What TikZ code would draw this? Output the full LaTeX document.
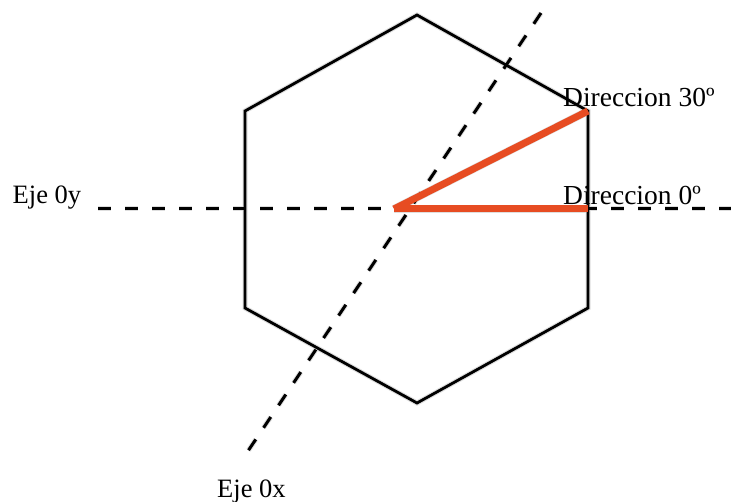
\documentclass[tikz,border=0pt]{standalone}
\usepackage{fontspec}
\setmainfont{Liberation Serif}
\begin{document}
\begin{tikzpicture}[x=1pt,y=-1pt,
  hexline/.style={line width=2.8pt, line join=miter},
  axisline/.style={line width=3pt, dash pattern=on 13pt off 14pt},
  redline/.style={line width=7pt, draw={rgb,255:red,231;green,76;blue,34}},
  shadowline/.style={draw=black!13, line width=5pt},
  dirlabel/.style={font=\fontsize{27.5}{30}\selectfont, inner sep=0pt, anchor=base west},
  axlabel/.style={font=\fontsize{26.5}{28}\selectfont, inner sep=0pt, anchor=base west}]
\useasboundingbox (0,0) rectangle (731,502);
% hexagon corners
\coordinate (T)  at (417,15);
\coordinate (UR) at (588,111);
\coordinate (LR) at (588,308);
\coordinate (B)  at (417,403);
\coordinate (LL) at (245,308);
\coordinate (UL) at (245,111);
% axes ends
\coordinate (Y1) at (98,209);
\coordinate (Y2) at (731,209);
\coordinate (X1) at (541,13);
\coordinate (X2) at (246,454);
\coordinate (O)  at (394,209);
\coordinate (D0) at (588,209);
% shadows
\begin{scope}[shift={(2,9)}]
  \draw[shadowline] (T) -- (UR) -- (LR) -- (B) -- (LL) -- (UL) -- cycle;
  \draw[shadowline, dash pattern=on 13pt off 14pt] (Y1) -- (Y2);
  \draw[shadowline, dash pattern=on 13pt off 14pt] (X1) -- (X2);
  \draw[shadowline, line width=8pt] (O) -- (UR);
  \draw[shadowline, line width=8pt] (O) -- (D0);
\end{scope}
% hexagon
\draw[hexline] (T) -- (UR) -- (LR) -- (B) -- (LL) -- (UL) -- cycle;
% axes
\draw[axisline] (Y1) -- (Y2);
\draw[axisline] (X1) -- (X2);
% directions
\draw[redline] (O) -- (UR);
\draw[redline] (O) -- (D0);
% labels
\node[dirlabel] (l30) at (563,107) {Direccion 30º};
\node[dirlabel] (l0) at (563,205) {Direccion 0º};
\node[axlabel] (ly) at (12.5,204) {Eje 0y};
\node[axlabel] (lx) at (217,497) {Eje 0x};
\end{tikzpicture}
\end{document}
